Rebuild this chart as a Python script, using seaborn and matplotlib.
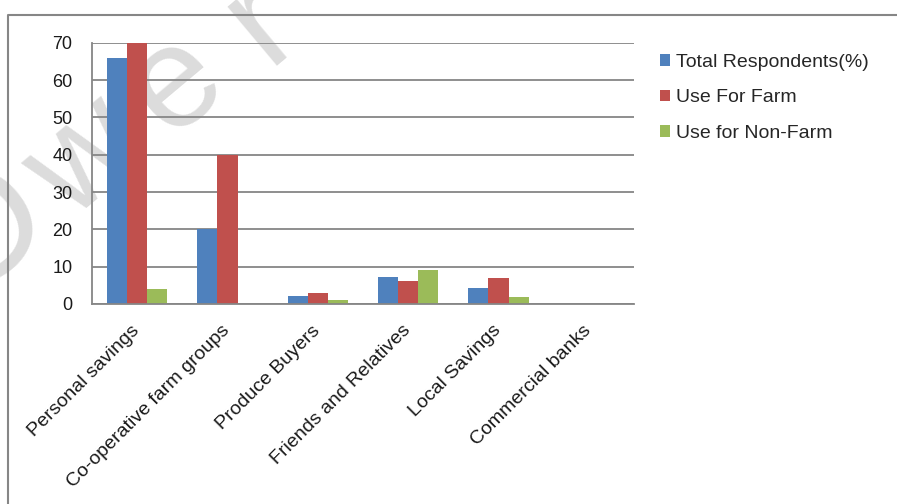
import pandas as pd
import matplotlib.pyplot as plt
from matplotlib.lines import Line2D
from matplotlib.transforms import ScaledTranslation
import seaborn as sns

sources = ['Personal savings', 'Co-operative farm groups', 'Produce Buyers',
           'Friends and Relatives', 'Local Savings', 'Commercial banks']
series = ['Total Respondents(%)', 'Use For Farm', 'Use for Non-Farm']
total_resp = [66, 20, 2.1, 7.3, 4.4, 0]
use_farm = [70, 40, 2.9, 6.1, 7.0, 0]
use_nonfarm = [4, 0, 1, 9, 2, 0]
colors = ['#4F81BD', '#C0504D', '#9BBB59']

df = pd.DataFrame({
    'source': sources * 3,
    'series': [series[0]] * 6 + [series[1]] * 6 + [series[2]] * 6,
    'value': total_resp + use_farm + use_nonfarm,
})

sns.set_style('white')
plt.rcParams['font.family'] = ['Liberation Sans', 'DejaVu Sans']
grey = '#868686'

fig = plt.figure(figsize=(8.97, 5.04), dpi=100)

# faint watermark letters behind the chart (widely spaced)
wm_letters = ['O', 'w', 'e', 'r']
wm_pos = [(-16, 232), (86, 160), (176, 84), (262, 22)]
wm_size = [112, 104, 104, 104]
for ch, (px, py), fs in zip(wm_letters, wm_pos, wm_size):
    fig.text(px / 897, 1 - py / 504, ch, fontsize=fs, rotation=40, color='#dcdcdc',
             ha='center', va='center', rotation_mode='anchor', zorder=-1)

# outer chart frame (only top and left edges are visible)
fig.add_artist(Line2D([8 / 897, 8 / 897, 1.0], [0.0, 1 - 15 / 504, 1 - 15 / 504],
                      color=grey, lw=1.5, transform=fig.transFigure))

ax = fig.add_axes([92 / 897, 1 - 304 / 504, (634 - 92) / 897, (304 - 42.7) / 504])
ax.patch.set_alpha(0)
sns.barplot(data=df, x='source', y='value', hue='series', palette=colors,
            width=0.667, saturation=1, gap=0, linewidth=0, ax=ax)

ax.set_ylim(0, 70)
ax.set_xlim(-0.5, 5.5)
ax.set_yticks(range(0, 71, 10))
ax.yaxis.grid(True, color=grey, lw=1.3)
ax.set_axisbelow(True)
ax.set_xlabel('')
ax.set_ylabel('')

ax.set_xticks(range(len(sources)))
ax.set_xticklabels(sources, rotation=45, ha='right', va='top', rotation_mode='anchor')
ax.set_xticks([i - 0.5 for i in range(len(sources) + 1)], minor=True)
ax.tick_params(axis='x', which='major', length=0, pad=13, labelsize=14, labelcolor='#1a1a1a')
ax.tick_params(axis='x', which='minor', length=5, width=1.3, color=grey, direction='out')
ax.tick_params(axis='y', length=5, width=1.3, color=grey, direction='out', labelsize=13,
               labelcolor='#1a1a1a', pad=9)
shift = ScaledTranslation(-0.06, 0, fig.dpi_scale_trans)
for lbl in ax.get_xticklabels():
    lbl.set_transform(lbl.get_transform() + shift)

for s in ['top', 'right']:
    ax.spines[s].set_visible(False)
for s in ['left', 'bottom']:
    ax.spines[s].set_color(grey)
    ax.spines[s].set_linewidth(1.3)

handles, labels = ax.get_legend_handles_labels()
ax.legend(handles, labels, loc='upper left', bbox_to_anchor=(652 / 897, 1 - 46 / 504),
          bbox_transform=fig.transFigure, frameon=False, fontsize=14,
          handlelength=0.55, handleheight=0.55, handletextpad=0.3, labelspacing=0.95,
          borderaxespad=0)

fig.savefig('out.png', dpi=100)
